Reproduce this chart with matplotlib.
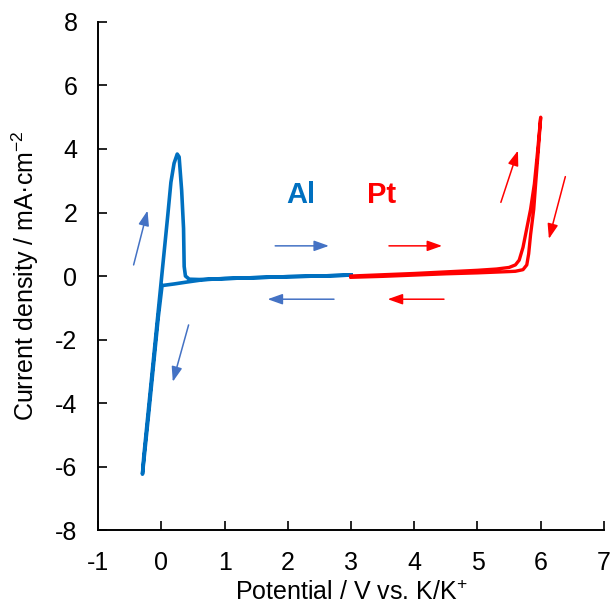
import matplotlib
matplotlib.use("Agg")
import matplotlib.pyplot as plt

plt.rcParams['font.family'] = ['Liberation Sans', 'DejaVu Sans']
plt.rcParams['axes.unicode_minus'] = False
plt.rcParams['mathtext.fontset'] = 'custom'
plt.rcParams['mathtext.rm'] = 'Liberation Sans'

# Al electrode CV (cathodic sweep from 3 V, then anodic return)
al_v = [3.0, 2.5, 2.0, 1.5, 1.0, 0.8, 0.65, 0.4, 0.2, 0.01, -0.05, -0.1, -0.2, -0.3,
        -0.28, -0.2, -0.1, 0.0, 0.05, 0.1, 0.15, 0.2, 0.25, 0.28, 0.32, 0.35, 0.36,
        0.38, 0.44, 0.6, 1.0, 1.5, 2.0, 2.5, 3.0]
al_j = [0.03, 0.0, -0.02, -0.05, -0.08, -0.1, -0.12, -0.19, -0.25, -0.3, -1.3, -2.3, -4.3, -6.24,
        -5.7, -4.1, -2.1, -0.1, 0.9, 1.9, 2.95, 3.55, 3.84, 3.75, 2.7, 1.5, 0.3,
        0.0, -0.1, -0.11, -0.08, -0.05, -0.02, 0.0, 0.03]

# Pt electrode CV (anodic sweep from 3 V to 6 V and back)
pt_v = [3.0, 3.5, 4.0, 4.5, 5.0, 5.3, 5.5, 5.6, 5.66, 5.72, 5.78, 5.84, 5.9, 5.95, 6.0,
        5.96, 5.92, 5.89, 5.84, 5.81, 5.78, 5.72, 5.6, 5.5, 5.0, 4.5, 4.0, 3.5, 3.0]
pt_j = [0.0, 0.04, 0.08, 0.13, 0.18, 0.22, 0.27, 0.35, 0.5, 0.9, 1.5, 2.1, 2.9, 3.9, 5.0,
        3.9, 2.9, 2.1, 1.3, 0.7, 0.35, 0.2, 0.15, 0.14, 0.1, 0.07, 0.03, -0.01, -0.04]

# sweep-direction arrows: (tail x, tail y, head x, head y)
al_arrows = [(-0.44, 0.35, -0.22, 2.06), (0.43, -1.54, 0.18, -3.33),
             (1.80, 0.95, 2.65, 0.95), (2.73, -0.73, 1.68, -0.73)]
pt_arrows = [(3.60, 0.95, 4.44, 0.95), (4.47, -0.73, 3.58, -0.73),
             (5.37, 2.32, 5.64, 3.95), (6.39, 3.13, 6.13, 1.17)]

x_ticks = [-1, 0, 1, 2, 3, 4, 5, 6, 7]
y_ticks = [-8, -6, -4, -2, 0, 2, 4, 6, 8]

al_color = '#0070C0'
pt_color = '#FF0000'

fig = plt.figure(figsize=(6.1, 6.1), dpi=100)
ax = fig.add_axes([0.161, 0.131, 0.829, 0.833])

ax.plot(al_v, al_j, color=al_color, lw=2.6, solid_joinstyle='round', zorder=3)
ax.plot(pt_v, pt_j, color=pt_color, lw=2.4, solid_joinstyle='round', zorder=3)

for arrows, c in ((al_arrows, '#4472C4'), (pt_arrows, pt_color)):
    for x0, y0, x1, y1 in arrows:
        ax.annotate('', xy=(x1, y1), xytext=(x0, y0),
                    arrowprops=dict(arrowstyle='-|>,head_length=0.9,head_width=0.32',
                                    color=c, lw=1.1, shrinkA=0, shrinkB=0))

ax.text(2.2, 2.55, 'Al', color=al_color, fontsize=21, fontweight='bold',
        ha='center', va='center')
ax.text(3.49, 2.55, 'Pt', color=pt_color, fontsize=21, fontweight='bold',
        ha='center', va='center')

ax.set_xlim(-1, 7)
ax.set_ylim(-8, 8)
ax.set_xticks(x_ticks)
ax.set_yticks(y_ticks)
ax.tick_params(direction='in', length=6.5, width=1.2, labelsize=18, pad=15)
for side in ('top', 'right'):
    ax.spines[side].set_visible(False)
for side in ('left', 'bottom'):
    ax.spines[side].set_linewidth(1.4)

ax.set_xlabel('Potential / V vs. K/K$^{+}$', fontsize=18, labelpad=4)
ax.set_ylabel('Current density / mA·cm$^{\u22122}$', fontsize=18, labelpad=10)

fig.savefig('out.png', dpi=100)
